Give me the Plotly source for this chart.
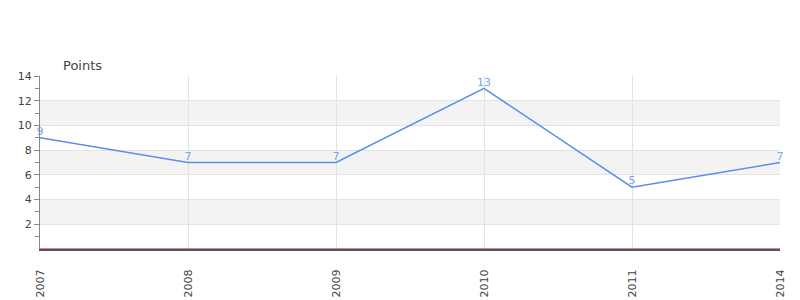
import plotly.graph_objects as go

years = ["2007", "2008", "2009", "2010", "2011", "2014"]
points = [9, 7, 7, 13, 5, 7]
y_ticks = [2, 4, 6, 8, 10, 12, 14]
bands = [(2, 4), (6, 8), (10, 12)]

fig = go.Figure()
fig.add_trace(go.Scatter(
    x=years, y=points, mode="lines+text",
    text=[str(v) for v in points], textposition="top center",
    textfont=dict(family="DejaVu Sans", size=11, color="#7ba4f0"),
    line=dict(color="#5b8def", width=1.5),
    cliponaxis=False, hoverinfo="x+y",
))

for lo, hi in bands:
    fig.add_shape(type="rect", xref="paper", yref="y", x0=0, x1=1, y0=lo, y1=hi,
                  fillcolor="#f3f3f3", line_width=0, layer="below")

fig.add_shape(type="line", xref="paper", yref="y", x0=0, x1=1, y0=0, y1=0,
              line=dict(color="#cc0000", width=1), layer="above")

fig.add_annotation(text="Points", xref="paper", yref="paper", x=0.029, y=1.0,
                   xanchor="left", yanchor="bottom", yshift=1, showarrow=False,
                   font=dict(family="DejaVu Sans", size=13, color="#444444"))

fig.update_layout(
    width=800, height=300,
    margin=dict(l=40, r=20, t=76, b=51),
    paper_bgcolor="white", plot_bgcolor="white",
    showlegend=False,
    font=dict(family="DejaVu Sans", size=11, color="#444444"),
    xaxis=dict(
        type="category", range=[0, 5], showgrid=True, gridcolor="#e3e3e3",
        tickangle=-90, ticks="outside", ticklen=14, tickcolor="rgba(0,0,0,0)",
        showline=True, linecolor="#555555", linewidth=2, zeroline=False,
        tickfont=dict(size=11, color="#444444"), fixedrange=True,
        automargin=False,
    ),
    yaxis=dict(
        range=[0, 14], tickvals=y_ticks, showgrid=True, gridcolor="#e3e3e3",
        ticks="outside", ticklen=5, tickcolor="#888888",
        minor=dict(tickvals=[1, 3, 5, 7, 9, 11, 13], ticks="outside", ticklen=4,
                   tickcolor="#888888", showgrid=False),
        showline=True, linecolor="#888888", linewidth=1, zeroline=False,
        tickfont=dict(size=11, color="#444444"), fixedrange=True,
        automargin=False,
    ),
)

fig.write_html("out.html")
